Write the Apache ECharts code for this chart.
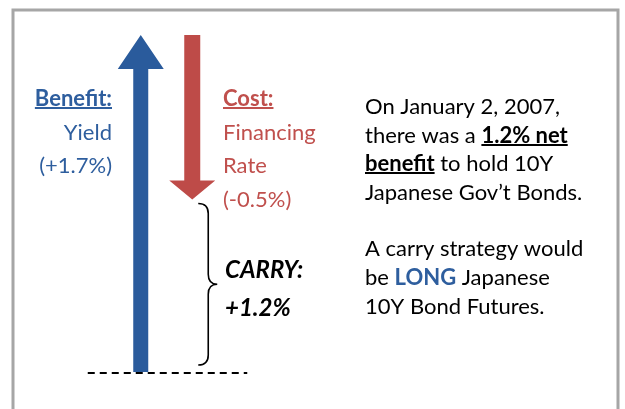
<!DOCTYPE html>
<html>
<head>
<meta charset="utf-8">
<script src="https://cdn.jsdelivr.net/npm/echarts@6/dist/echarts.min.js"></script>
<style>
  html, body { margin: 0; background: #fff; }
  #chart { width: 625px; height: 409px; }
</style>
</head>
<body>
<div id="chart"></div>
<script>
// values
const categories = ['Benefit', 'Cost'];
const arrowStart = [0, 1.7];      // where each arrow starts on the hidden % axis
const arrowEnd = [1.7, 0.87];     // where each arrow ends, as drawn
const carryRange = [0.85, 0.035]; // span of the brace
const yieldPct = 1.7;
const financingPct = -0.5;
const carryPct = 1.2;
const arrowColors = ['#2A5B9C', '#BE4B48'];

const FONT = 'Lato, "Open Sans", sans-serif';
const SIZE = 22;

const chart = echarts.init(document.getElementById('chart'));

const ctx = document.createElement('canvas').getContext('2d');
function textWidth(t, font) {
  ctx.font = font;
  return ctx.measureText(t).width;
}

// one line of text made of segments; returns graphic elements
function textLine(x, y, segs, align) {
  const els = [];
  const fonts = segs.map(s => (s.italic ? 'italic ' : '') + (s.bold ? 'bold ' : '') + (s.size || SIZE) + 'px ' + FONT);
  const widths = segs.map((s, i) => textWidth(s.t, fonts[i]));
  let cx = align === 'right' ? x - widths.reduce((a, b) => a + b, 0) : x;
  segs.forEach((s, i) => {
    els.push({
      type: 'text', x: cx, y: y,
      style: { text: s.t, font: fonts[i], fill: s.color || '#000', textVerticalAlign: 'middle' }
    });
    if (s.underline) {
      els.push({
        type: 'line',
        shape: { x1: cx, y1: y + 9, x2: cx + widths[i], y2: y + 9 },
        style: { stroke: s.color || '#000', lineWidth: 2 }
      });
    }
    cx += widths[i];
  });
  return els;
}

const blue = '#2E5E9E';
const red = '#C0504D';
const fmt = v => '(' + (v > 0 ? '+' : '') + v.toFixed(1) + '%)';

let graphics = [
  {
    type: 'rect',
    shape: { x: 13, y: 10, width: 605, height: 420 },
    style: { fill: 'none', stroke: '#A6A6A6', lineWidth: 3 }
  }
];
graphics = graphics.concat(
  textLine(112, 99, [{ t: 'Benefit:', bold: true, underline: true, color: blue }], 'right'),
  textLine(112, 133, [{ t: 'Yield', color: blue }], 'right'),
  textLine(112, 166, [{ t: fmt(yieldPct), color: blue }], 'right'),
  textLine(223, 99, [{ t: 'Cost:', bold: true, underline: true, color: red }]),
  textLine(223, 133, [{ t: 'Financing', color: red }]),
  textLine(223, 166, [{ t: 'Rate', color: red }]),
  textLine(223, 200, [{ t: fmt(financingPct), color: red }]),
  textLine(225, 270, [{ t: 'CARRY:', bold: true, italic: true, size: 24 }]),
  textLine(225, 308, [{ t: '+' + carryPct.toFixed(1) + '%', bold: true, italic: true, size: 24 }]),
  textLine(365, 107, [{ t: 'On January 2, 2007,' }]),
  textLine(365, 136, [{ t: 'there was a ' }, { t: carryPct.toFixed(1) + '% net', bold: true, underline: true }]),
  textLine(365, 164, [{ t: 'benefit', bold: true, underline: true }, { t: ' to hold 10Y' }]),
  textLine(365, 193, [{ t: 'Japanese Gov\u2019t Bonds.' }]),
  textLine(365, 249, [{ t: 'A carry strategy would' }]),
  textLine(365, 278, [{ t: 'be ' }, { t: 'LONG', bold: true, color: blue }, { t: ' Japanese' }]),
  textLine(365, 307, [{ t: '10Y Bond Futures.' }])
);

function renderArrow(params, api) {
  const i = api.value(0);
  const p0 = api.coord([i, api.value(1)]);
  const p1 = api.coord([i, api.value(2)]);
  const up = p1[1] < p0[1];
  const dir = up ? -1 : 1;
  const shaftW = up ? 15 : 16;
  const headW = 46;
  const headL = up ? 34 : 19;
  const x = p0[0];
  const baseY = p1[1] - dir * headL;
  return {
    type: 'polygon',
    shape: {
      points: [
        [x - shaftW / 2, p0[1]], [x - shaftW / 2, baseY], [x - headW / 2, baseY],
        [x, p1[1]], [x + headW / 2, baseY], [x + shaftW / 2, baseY], [x + shaftW / 2, p0[1]]
      ]
    },
    style: { fill: arrowColors[i] }
  };
}

function renderBrace(params, api) {
  const top = api.coord([1, api.value(1)]);
  const bot = api.coord([1, api.value(2)]);
  const zero = api.coord([0, 0]);
  const x0 = top[0] + 6, xm = top[0] + 16, xt = top[0] + 25;
  const y0 = top[1], y1 = bot[1], ym = (y0 + y1) / 2;
  const r = 10;
  const d = `M${x0} ${y0} Q${xm} ${y0} ${xm} ${y0 + r} L${xm} ${ym - r} Q${xm} ${ym} ${xt} ${ym}` +
    ` Q${xm} ${ym} ${xm} ${ym + r} L${xm} ${y1 - r} Q${xm} ${y1} ${x0} ${y1}`;
  return {
    type: 'group',
    children: [
      { type: 'path', shape: { pathData: d }, style: { fill: 'none', stroke: '#000', lineWidth: 1.6 } },
      {
        type: 'line',
        shape: { x1: zero[0] - 53, y1: zero[1] + 1, x2: top[0] + 55, y2: zero[1] + 1 },
        style: { stroke: '#000', lineWidth: 2, lineDash: [7, 5] }
      }
    ]
  };
}

chart.setOption({
  animation: false,
  grid: { left: 115, right: 407, top: 35, bottom: 37 },
  xAxis: { type: 'category', data: categories, show: false },
  yAxis: { type: 'value', min: 0, max: 1.7, show: false },
  graphic: graphics,
  series: [
    {
      type: 'custom',
      renderItem: renderArrow,
      data: categories.map((c, i) => [i, arrowStart[i], arrowEnd[i]])
    },
    {
      type: 'custom',
      renderItem: renderBrace,
      data: [[1, carryRange[0], carryRange[1]]]
    }
  ]
});
</script>
</body>
</html>
